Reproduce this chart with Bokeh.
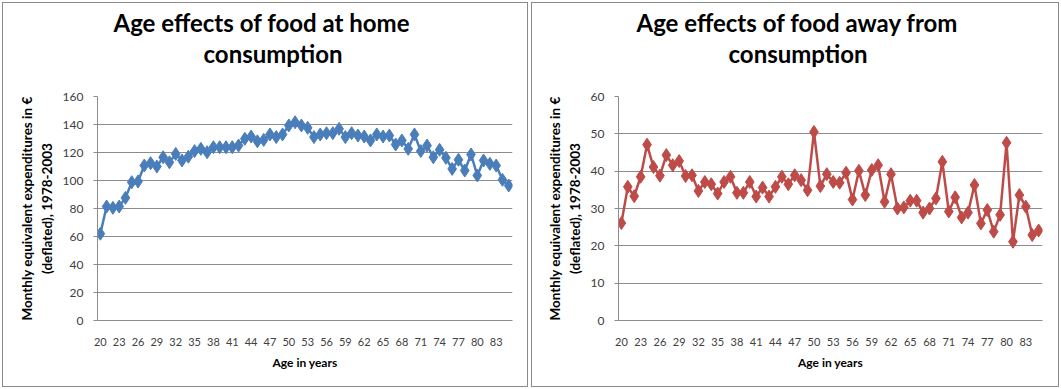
from bokeh.plotting import figure
from bokeh.layouts import row
from bokeh.models import Range1d, FixedTicker, Title
from bokeh.embed import file_html
from bokeh.resources import INLINE

ages = list(range(20, 86))
home = [62, 81.4, 80.5, 81.4, 87.6, 98.8, 99.3, 110.7, 112.4, 110, 116.6, 113, 119, 114.3,
        117, 121, 122.6, 120.2, 123.8, 123.8, 123.8, 123.8, 125, 129.8, 131.4, 128, 129,
        132.9, 131, 132.9, 139.3, 141.6, 139.3, 137.6, 131, 132.9, 133.8, 133.8, 136.9, 131,
        133.8, 132.1, 131.4, 128.6, 132.9, 131.4, 132.1, 125.7, 128.6, 122.6, 132.9, 121,
        125, 116.6, 121.9, 116.2, 108.3, 114.8, 107.1, 118.6, 103.6, 114.3, 111.9, 110.7,
        100.5, 96.4]
away = [26.1, 35.8, 33.3, 38.5, 47.1, 41.1, 38.8, 44.3, 41.6, 42.7, 38.7, 38.9, 34.7, 37.1,
        36.5, 34, 37.1, 38.5, 34.2, 34.2, 37.1, 33.2, 35.6, 33.2, 35.8, 38.5, 36.5, 38.9,
        37.6, 34.9, 50.5, 36, 39.2, 37.1, 36.9, 39.6, 32.4, 40.1, 33.6, 40.3, 41.6, 31.8,
        39.2, 30, 30.3, 32.1, 32.1, 28.9, 30, 32.7, 42.5, 29.2, 33, 27.6, 28.9, 36.3, 26,
        29.6, 23.8, 28.3, 47.6, 21.1, 33.6, 30.5, 22.9, 24.1]
x_ticks = list(range(20, 84, 3))
title_lines = [["Age effects of food at home", "consumption"],
               ["Age effects of food away from", "consumption"]]
y_label = "Monthly equivalent expenditures in €\n(deflated), 1978-2003"
x_label = "Age in years"

FONT = "Lato"
GRID = "#8c8c8c"
TXT = "#404040"


def title(text, offset, standoff):
    return Title(text=text, align="left", offset=offset, text_font=FONT,
                 text_font_size="24px", text_font_style="bold", text_color="black",
                 standoff=standoff)


def make(values, color, ymax, ystep, lines, offsets, width, bl, br, margin):
    p = figure(width=width, height=383, x_range=Range1d(19.55, 85.6),
               y_range=Range1d(0, ymax), output_backend="svg", toolbar_location=None,
               min_border_left=bl, min_border_right=br, min_border_top=93,
               min_border_bottom=66, title=None)
    p.outline_line_color = None
    p.background_fill_color = "white"
    p.border_fill_color = "white"
    p.margin = margin
    p.styles = {"box-shadow": "0 0 0 1px #8a8a8a"}

    # spacer between frame and the title block, then line 2, then line 1
    p.add_layout(title(" ", 0, -3), "above")
    p.add_layout(title(lines[1], offsets[1], 1), "above")
    p.add_layout(title(lines[0], offsets[0], 0), "above")

    p.line(ages, values, line_color=color, line_width=2.5)
    p.scatter(ages, values, marker="diamond", size=13, fill_color=color, line_color=color)

    p.xgrid.grid_line_color = None
    p.ygrid.grid_line_color = GRID
    p.ygrid.ticker = FixedTicker(ticks=list(range(0, ymax + 1, ystep)))

    xa = p.xaxis[0]
    xa.ticker = FixedTicker(ticks=x_ticks)
    xa.axis_line_color = GRID
    xa.major_tick_line_color = None
    xa.minor_tick_line_color = None
    xa.major_label_text_font = FONT
    xa.major_label_text_font_size = "11px"
    xa.major_label_text_color = TXT
    xa.major_label_standoff = 11
    xa.axis_label = x_label
    xa.axis_label_text_font = FONT
    xa.axis_label_text_font_size = "12px"
    xa.axis_label_text_font_style = "bold"
    xa.axis_label_text_color = "black"
    xa.axis_label_standoff = 6

    ya = p.yaxis[0]
    ya.ticker = FixedTicker(ticks=list(range(0, ymax + 1, ystep)))
    ya.axis_line_color = GRID
    ya.major_tick_line_color = GRID
    ya.major_tick_out = 4
    ya.major_tick_in = 0
    ya.minor_tick_line_color = None
    ya.major_label_text_font = FONT
    ya.major_label_text_font_size = "12px"
    ya.major_label_text_color = TXT
    ya.major_label_standoff = 10
    ya.axis_label = y_label
    ya.axis_label_text_font = FONT
    ya.axis_label_text_font_size = "13.5px"
    ya.axis_label_text_font_style = "bold"
    ya.axis_label_text_color = "black"
    ya.axis_label_standoff = 5
    return p


p1 = make(home, "#4a7ebb", 160, 20, title_lines[0], (16, 106), 524, 94, 15, (3, 0, 0, 3))
p2 = make(away, "#be4b48", 60, 10, title_lines[1], (18, 110), 526, 86, 16, (3, 0, 0, 5))
layout = row(p1, p2, spacing=0)
open("out.html", "w").write(file_html(layout, INLINE))
